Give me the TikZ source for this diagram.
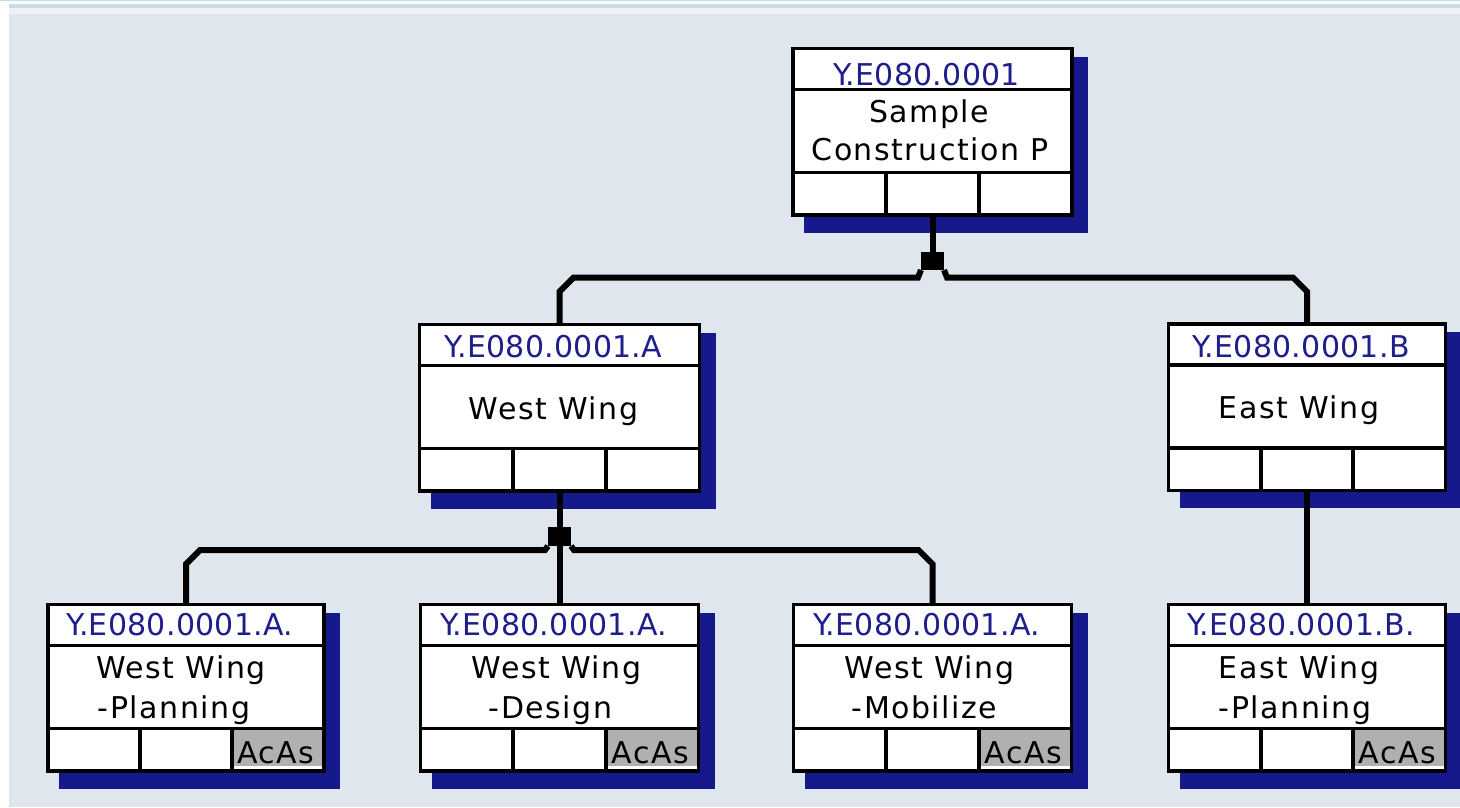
\documentclass[tikz,border=0pt]{standalone}
\usepackage{fontspec}
\setmainfont{DejaVu Sans}
\newfontfamily\lblfont[LetterSpace=5]{DejaVu Sans}
\newfontfamily\idfontfam[LetterSpace=1]{DejaVu Sans}
\usetikzlibrary{calc}
\definecolor{bgc}{HTML}{DFE6EE}
\definecolor{stripc}{HTML}{C9DAE8}
\definecolor{lightg}{HTML}{F1F1F1}
\definecolor{navy}{HTML}{16198C}
\definecolor{idc}{HTML}{1E1E8C}
\definecolor{acasg}{HTML}{B0B0B0}
\tikzset{
  boxst/.style={draw=black, fill=white, line width=3.6pt, inner sep=0pt, outer sep=0pt},
  divst/.style={line width=3.6pt},
  idst/.style={text=idc, font=\idfontfam\fontsize{30}{36}\selectfont, anchor=base, inner sep=0pt},
  lblst/.style={text=black, font=\lblfont\fontsize{30}{36}\selectfont, anchor=base, inner sep=0pt},
  conn/.style={line width=6pt, line join=miter},
  junc/.style={fill=black, minimum width=23pt, minimum height=18pt, inner sep=0pt, outer sep=0pt},
  shadowst/.style={fill=navy},
  acasst/.style={fill=acasg},
}
\newcommand\wbsbox[6]{%
  \fill[shadowst] ({#2+11},{#3+8}) rectangle ({#2+#4+16},{#3+184});
  \node[boxst, minimum width=#4pt, minimum height=166.5pt, anchor=north west] (#1) at (#2,#3) {};
  \draw[divst] ($(#1.north west)+(0,41)$) -- ($(#1.north east)+(0,41)$);
  \draw[divst] ($(#1.north west)+(0,124)$) -- ($(#1.north east)+(0,124)$);
  \draw[divst] ($(#1.north west)!1/3!(#1.north east)+(0,124)$) -- ($(#1.south west)!1/3!(#1.south east)$);
  \draw[divst] ($(#1.north west)!2/3!(#1.north east)+(0,124)$) -- ($(#1.south west)!2/3!(#1.south east)$);
  \node[idst] (#1-id) at ($(#1.north)+(-6,#5)$) {#6};
}
\newcommand\acascell[1]{%
  \fill[acasst] ($(#1.north west)!2/3!(#1.north east)+(1.8,125.8)$) rectangle ($(#1.south east)+(-1.8,-5.5)$);
  \node[lblst] (#1-acas) at ($(#1.south west)!5/6!(#1.south east)+(-2,-8)$) {AcAs};
}
\begin{document}
\begin{tikzpicture}[x=1pt, y=-1pt]
\useasboundingbox (0,0) rectangle (1460,807);
\clip (0,0) rectangle (1460,807);
% background
\fill[white] (0,0) rectangle (1460,807);
\fill[stripc] (0,0) rectangle (1460,1);
\fill[stripc] (9,4) rectangle (1460,8);
\fill[lightg] (9,8) rectangle (1460,14);
\fill[bgc] (9,14) rectangle (1460,807);
% boxes
\wbsbox{top}{793}{48.5}{279}{36.5}{Y.E080.0001}
\node[lblst] (top-l1) at ($(top.north)+(-3.5,73.5)$) {Sample};
\node[lblst] (top-l2) at ($(top.north)+(-2.5,111.5)$) {Construction P};
\wbsbox{west}{419.5}{324.5}{280}{32.5}{Y.E080.0001.A}
\node[lblst] (west-l1) at ($(west.north)+(-6,94.5)$) {West Wing};
\wbsbox{east}{1168.5}{324}{277}{33}{Y.E080.0001.B}
\node[lblst] (east-l1) at ($(east.north)+(-8,94)$) {East Wing};
\wbsbox{planning}{48}{604.5}{276}{30.5}{Y.E080.0001.A.}
\node[lblst] (planning-l1) at ($(planning.north)+(-5,73.5)$) {West Wing};
\node[lblst] (planning-l2) at ($(planning.north)+(-12,113.5)$) {-Planning};
\acascell{planning}
\wbsbox{design}{420.5}{604.5}{278}{30.5}{Y.E080.0001.A.}
\node[lblst] (design-l1) at ($(design.north)+(-3,73.5)$) {West Wing};
\node[lblst] (design-l2) at ($(design.north)+(-9,113.5)$) {-Design};
\acascell{design}
\wbsbox{mobilize}{793.5}{604.5}{278}{30.5}{Y.E080.0001.A.}
\node[lblst] (mobilize-l1) at ($(mobilize.north)+(-3,73.5)$) {West Wing};
\node[lblst] (mobilize-l2) at ($(mobilize.north)+(-8,113.5)$) {-Mobilize};
\acascell{mobilize}
\wbsbox{eastplan}{1168.5}{604.5}{277}{30.5}{Y.E080.0001.B.}
\node[lblst] (eastplan-l1) at ($(eastplan.north)+(-8,73.5)$) {East Wing};
\node[lblst] (eastplan-l2) at ($(eastplan.north)+(-12,113.5)$) {-Planning};
\acascell{eastplan}
% connectors
\node[junc] (j1) at (932.5,261) {};
\coordinate (bar1) at (932.5,277.5);
\draw[conn] (top.south) -- (j1.north);
\draw[conn] (j1.south west) -- ($(j1.south west |- bar1)+(-3,0)$) -- ($(west.north |- bar1)+(14,0)$) -- ($(west.north |- bar1)+(0,14)$) -- (west.north);
\draw[conn] (j1.south east) -- ($(j1.south east |- bar1)+(3,0)$) -- ($(east.north |- bar1)+(-14,0)$) -- ($(east.north |- bar1)+(0,14)$) -- (east.north);
\node[junc, minimum height=19pt] (j2) at (559.5,536.5) {};
\coordinate (bar2) at (559.5,550);
\draw[conn] (west.south) -- (j2.north);
\draw[conn] (j2.south) -- (design.north);
\draw[conn] (j2.south west) -- ($(j2.south west |- bar2)+(-3,0)$) -- ($(planning.north |- bar2)+(14,0)$) -- ($(planning.north |- bar2)+(0,14)$) -- (planning.north);
\draw[conn] (j2.south east) -- ($(j2.south east |- bar2)+(3,0)$) -- ($(mobilize.north |- bar2)+(-14,0)$) -- ($(mobilize.north |- bar2)+(0,14)$) -- (mobilize.north);
\draw[conn] (east.south) -- (eastplan.north);
\end{tikzpicture}
\end{document}
